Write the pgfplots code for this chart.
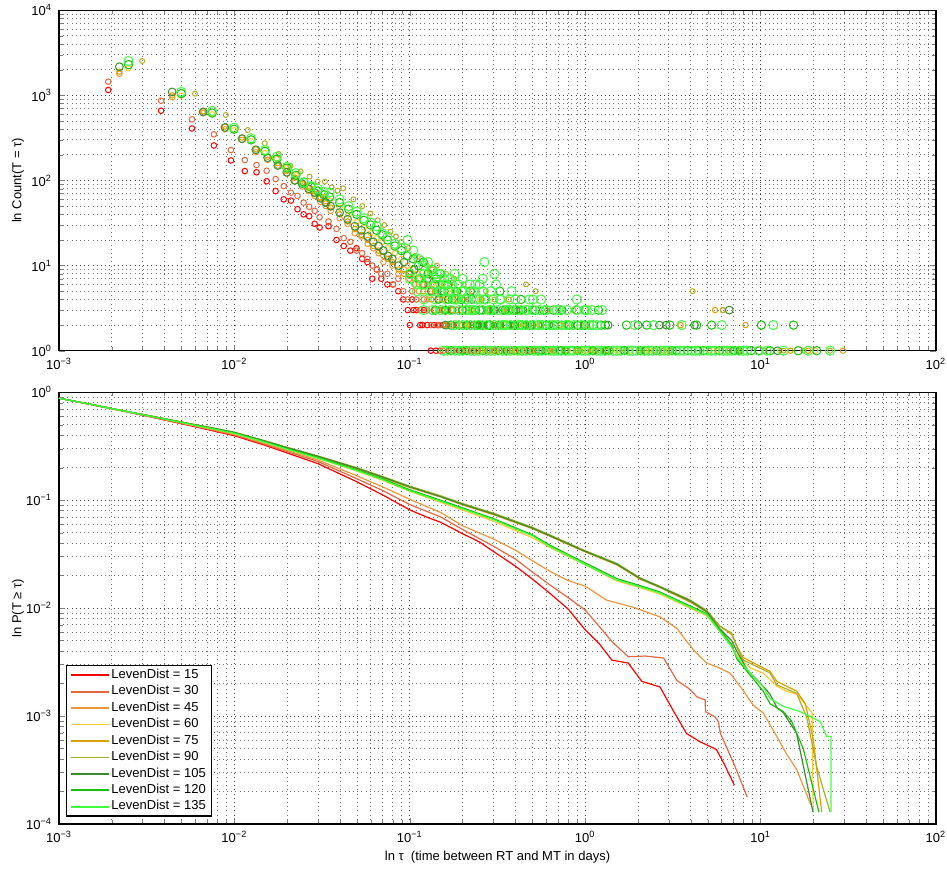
\documentclass[border=0pt]{standalone}
\usepackage{fontspec}
\setmainfont{Liberation Sans}
\usepackage{pgfplots}
\pgfplotsset{compat=1.18}

\definecolor{c15}{RGB}{255,0,0}
\definecolor{c30}{RGB}{230,102,64}
\definecolor{c45}{RGB}{236,150,60}
\definecolor{c60}{RGB}{255,199,51}
\definecolor{c75}{RGB}{217,160,0}
\definecolor{c90}{RGB}{173,173,40}
\definecolor{c105}{RGB}{60,140,50}
\definecolor{c120}{RGB}{26,191,13}
\definecolor{c135}{RGB}{64,255,64}

\newcommand{\tl}[1]{10\textsuperscript{#1}}

\pgfplotsset{
  every axis/.append style={
    scale only axis, width=438.5pt,
    xmin=1e-3, xmax=1e2,
    axis line style={line width=0.7pt},
    major tick length=3pt, minor tick length=1.8pt,
    grid=both,
    major grid style={black!75, line width=0.45pt, dash pattern=on 0.5pt off 1.6pt},
    minor grid style={black!55, line width=0.45pt, dash pattern=on 0.5pt off 1.6pt},
    tick label style={font=\fontsize{6.5}{7}\selectfont},
    label style={font=\fontsize{6.5}{7}\selectfont},
    xtick={1e-3,1e-2,1e-1,1,10,100},
    xticklabels={\tl{−3},\tl{−2},\tl{−1},\tl{0},\tl{1},\tl{2}},
    minor xtick={2e-3,3e-3,4e-3,5e-3,6e-3,7e-3,8e-3,9e-3,0.02,0.03,0.04,0.05,0.06,0.07,0.08,0.09,0.2,0.3,0.4,0.5,0.6,0.7,0.8,0.9,2,3,4,5,6,7,8,9,20,30,40,50,60,70,80,90},
    ylabel style={at={(axis description cs:-0.0467,0.5)}, anchor=center},
  },
}

\begin{document}
\begin{tikzpicture}
\path[use as bounding box] (-29.5pt,-22.5pt) rectangle (444pt,412pt);

% ---------------- top axis ----------------
\begin{loglogaxis}[at={(0pt,236.65pt)}, anchor=south west, height=170.2pt,
  ymin=1, ymax=1e4, clip=false,
  ytick={1,10,100,1000,10000},
  yticklabels={\tl{0},\tl{1},\tl{2},\tl{3},\tl{4}},
  minor ytick={2,3,4,5,6,7,8,9,20,30,40,50,60,70,80,90,200,300,400,500,600,700,800,900,2000,3000,4000,5000,6000,7000,8000,9000},
  ylabel={ln Count(T = τ)}]

\addplot[only marks, mark=o, mark size=1.4pt, mark options={line width=0.5pt}, color=c15] coordinates {
(0.00191,1157)(0.00382,661)(0.00573,408)(0.00764,258)(0.00955,172)(0.01146,129)(0.01337,125)(0.01528,98)(0.01719,75)(0.0191,60)(0.0210,58)(0.0229,46)(0.0248,40)(0.0267,38)(0.0287,31)(0.0306,28)(0.0344,29)(0.0382,20)(0.0420,17)(0.0458,15)(0.0497,16)(0.0535,12)(0.0573,11)(0.0611,7)(0.0649,9)(0.0688,7)(0.0745,6)(0.0802,6)(0.0860,5)(0.0917,4)(0.0974,3)(0.1031,4)(0.1089,3)(0.1146,2)(0.1203,3)(0.1260,2)(0.1318,1)(0.1375,2)(0.1490,1)(0.1547,2)(0.1662,1)(0.1777,2)(0.1910,1)(0.2101,1)(0.2330,1)(0.2560,2)(0.2770,1)(0.3030,1)(0.350,1)(0.420,1)(0.480,1)
(0.105,3)(0.115,3)(0.1,2)(0.118,2)(0.141,1)(0.145,2)};

\addplot[only marks, mark=o, mark size=1.4pt, mark options={line width=0.5pt}, color=c30] coordinates {
(0.00191,1449)(0.00382,866)(0.00573,523)(0.00764,349)(0.00955,228)(0.01146,174)(0.01337,152)(0.01528,130)(0.01719,104)(0.0191,86)(0.0210,72)(0.0229,66)(0.0248,55)(0.0267,49)(0.0287,44)(0.0306,37)(0.0344,33)(0.0382,27)(0.0420,21)(0.0458,19)(0.0497,15)(0.0535,14)(0.0573,12)(0.0611,10)(0.0649,9)(0.0688,8)(0.0745,8)(0.0802,6)(0.0860,7)(0.0917,5)(0.0974,4)(0.1031,5)(0.1089,4)(0.1146,3)(0.1203,4)(0.1260,3)(0.1318,2)(0.1375,3)(0.1432,2)(0.1490,2)(0.1547,1)(0.1605,2)(0.1719,1)(0.1834,2)(0.1948,1)(0.2101,2)(0.2254,1)(0.2445,1)(0.2636,2)(0.2865,1)(0.3151,1)(0.3438,1)(0.3820,1)(0.4393,1)(0.5157,1)(0.6303,1)};

\addplot[only marks, mark=o, mark size=1.4pt, mark options={line width=0.5pt}, color=c45] coordinates {
(0.00221,1799)(0.00442,949)(0.00663,620)(0.00884,400)(0.01105,300)(0.01326,215)(0.01547,175)(0.01768,150)(0.01989,120)(0.0221,98)(0.0243,85)(0.0265,75)(0.0287,66)(0.0309,56)(0.0332,50)(0.0354,44)(0.0398,36)(0.0442,31)(0.0486,24)(0.0530,22)(0.0575,18)(0.0619,16)(0.0663,14)(0.0707,11)(0.0751,12)(0.0796,10)(0.0862,8)(0.0928,9)(0.0995,7)(0.1061,6)(0.1127,5)(0.1194,6)(0.1260,4)(0.1326,5)(0.1392,3)(0.1459,4)(0.1525,3)(0.1591,2)(0.1657,3)(0.1746,2)(0.1857,3)(0.1989,2)(0.2122,1)(0.2254,2)(0.2409,1)(0.2586,2)(0.2785,1)(0.3006,2)(0.3271,1)(0.3580,1)(0.3978,1)(0.4420,2)(0.4973,1)(0.5636,1)(0.6630,1)(0.7735,1)(0.9061,1)(1.105,1)(6.1,3)};

\addplot[only marks, mark=o, mark size=1.35pt, mark options={line width=0.5pt}, color=c60] coordinates {
(0.00249,2080)(0.00498,993)(0.00747,600)(0.00996,390)(0.01245,290)(0.01494,210)(0.01743,180)(0.01992,140)(0.02241,115)(0.0249,90)(0.0274,80)(0.0299,70)(0.0324,64)(0.0349,58)(0.0398,48)(0.0448,40)(0.0498,33)(0.0548,28)(0.0598,24)(0.0647,21)(0.0697,19)(0.0747,16)(0.0822,14)(0.0896,12)(0.0971,10)(0.1046,9)(0.1121,8)(0.1195,7)(0.1270,8)(0.1345,6)(0.1419,5)(0.1494,6)(0.1569,4)(0.1643,5)(0.1743,3)(0.1843,4)(0.1967,3)(0.2092,2)(0.2216,3)(0.2366,2)(0.2515,4)(0.2665,2)(0.2839,3)(0.3038,2)(0.3262,1)(0.3486,2)(0.3735,3)(0.4009,2)(0.4308,1)(0.4656,2)(0.5030,1)(0.5453,2)(0.5976,1)(0.6574,1)(0.7221,2)(0.7968,1)(0.8964,1)(1.0,1)(1.12,1)(1.31,1)(1.52,1)(1.8,1)(2.3,1)(3.0,1)(5.6,1)(12.9,1)(20.5,1)};

\addplot[only marks, mark=o, mark size=1.35pt, mark options={line width=0.5pt}, color=c75] coordinates {
(0.00221,1900)(0.00442,1000)(0.00663,650)(0.00884,430)(0.01105,320)(0.01326,232)(0.01547,190)(0.01768,160)(0.01989,130)(0.0221,108)(0.0243,92)(0.0265,82)(0.0287,70)(0.0309,62)(0.0332,54)(0.0354,48)(0.0398,40)(0.0442,33)(0.0486,27)(0.0530,23)(0.0575,20)(0.0619,17)(0.0663,15)(0.0707,13)(0.0751,12)(0.0796,11)(0.0862,9)(0.0928,8)(0.0995,8)(0.1061,7)(0.1127,6)(0.1194,5)(0.1260,6)(0.1326,4)(0.1392,5)(0.1459,3)(0.1525,4)(0.1591,3)(0.1657,2)(0.1746,3)(0.1857,2)(0.1989,4)(0.2122,2)(0.2254,3)(0.2409,2)(0.2586,1)(0.2785,3)(0.3006,1)(0.3271,2)(0.3580,3)(0.3978,1)(0.4420,2)(0.4973,1)(0.5636,2)(0.6630,1)(0.7735,2)(0.9061,1)(1.105,1)(1.35,1)(2.8,1)(3.5,2)(5.5,3)(6.5,1)(8.2,2)(14.8,1)(18.7,1)(29.5,1)};

\addplot[only marks, mark=o, mark size=1.25pt, mark options={line width=0.5pt}, color=c90] coordinates {
(0.00298,2537)(0.00596,1047)(0.00894,589)(0.01192,392)(0.0149,274)(0.01788,205)(0.02086,148)(0.02384,128)(0.02682,111)(0.0298,97)(0.0328,97)(0.0358,83)(0.0387,76)(0.0417,81)(0.0477,60)(0.0536,50)(0.0596,41)(0.0656,34)(0.0715,30)(0.0775,25)(0.0834,22)(0.0894,19)(0.0983,16)(0.1073,13)(0.1162,12)(0.1252,10)(0.1341,9)(0.1430,10)(0.1520,7)(0.1609,8)(0.1698,6)(0.1788,7)(0.1907,5)(0.2026,6)(0.2146,4)(0.2265,5)(0.2414,3)(0.2563,4)(0.2712,5)(0.2861,3)(0.3040,4)(0.3218,2)(0.3427,3)(0.3665,4)(0.3934,2)(0.4202,3)(0.46,6)(0.4828,2)(0.5215,5)(0.5602,2)(0.6049,3)(0.6556,1)(0.7152,2)(0.7808,1)(0.8583,3)(0.9417,1)(1.0,2)(1.07,1)(1.22,1)(1.40,1)(1.69,1)(2.06,1)(2.52,1)(3.10,1)(4.10,5)(5.10,1)(6.10,3)(7.5,1)(10.5,1)(13.5,1)(17.5,1)(24.9,1)};

\addplot[only marks, mark=o, mark size=1.95pt, mark options={line width=0.5pt}, color=c105] coordinates {
(0.00221,2174)(0.00442,1097)(0.00663,640)(0.00884,420)(0.01105,310)(0.01326,230)(0.01547,185)(0.01768,150)(0.01989,125)(0.0221,100)(0.0243,92)(0.0265,80)(0.0287,72)(0.0309,62)(0.0332,55)(0.0354,50)(0.0398,42)(0.0442,35)(0.0486,29)(0.0530,26)(0.0575,22)(0.0619,19)(0.0663,17)(0.0707,15)(0.0751,13)(0.0796,12)(0.0862,10)(0.0928,11)(0.0995,8)(0.1061,9)(0.1127,7)(0.1194,6)(0.1260,7)(0.1326,5)(0.1392,6)(0.1459,4)(0.1525,5)(0.1591,3)(0.1657,4)(0.1746,3)(0.1857,5)(0.1989,3)(0.2122,2)(0.2254,4)(0.2409,2)(0.2586,3)(0.2785,2)(0.3006,3)(0.3271,2)(0.3580,1)(0.3978,2)(0.4420,3)(0.4973,2)(0.5636,1)(0.6630,2)(0.7735,1)(0.9061,2)(1.0,3)(1.105,1)(1.33,1)(1.66,1)(2.21,1)(2.65,2)(3.3,1)(4.4,1)(6.63,3)(7.5,1)(9.8,1)
(0.16,2)(0.245,2)(0.39,2)(0.62,2)(1.35,2)(2.0,2)(2.9,2)(4.2,2)(0.2,1)(0.45,1)(1.3,1)(7.0,1)(12.5,1)(0.74,3)};

\addplot[only marks, mark=o, mark size=2.1pt, mark options={line width=0.5pt}, color=c120] coordinates {
(0.00249,2300)(0.00498,1050)(0.00747,620)(0.00996,400)(0.01245,300)(0.01494,220)(0.01743,178)(0.01992,140)(0.02241,115)(0.0249,96)(0.0274,84)(0.0299,75)(0.0324,68)(0.0349,64)(0.0398,55)(0.0448,46)(0.0498,40)(0.0548,34)(0.0598,30)(0.0647,26)(0.0697,23)(0.0747,20)(0.0822,17)(0.0896,15)(0.0971,13)(0.1046,12)(0.1121,10)(0.1195,11)(0.1270,8)(0.1345,9)(0.1419,7)(0.1494,8)(0.1569,5)(0.1643,6)(0.1743,4)(0.1843,5)(0.1967,4)(0.2092,3)(0.2216,5)(0.2366,3)(0.2515,2)(0.2665,4)(0.2839,2)(0.3038,3)(0.3262,5)(0.3486,3)(0.3735,2)(0.4009,3)(0.4308,4)(0.4656,2)(0.5030,3)(0.5453,1)(0.5976,2)(0.6574,3)(0.7221,1)(0.7968,2)(0.8964,3)(0.9910,2)(1.19,3)(1.30,2)
(0.172,1)(0.211,1)(0.260,1)(0.320,1)(0.394,1)(0.484,1)(0.596,1)(0.733,1)(0.902,1)(1.109,1)(1.365,1)(1.679,1)(2.065,1)(2.541,1)(3.126,1)(3.846,1)(4.732,1)(5.821,1)(7.161,1)(8.810,1)(11.3,1)(16.4,1)(20.9,1)
(1.72,2)(2.24,2)(3.04,2)(4.32,2)(5.26,2)(10.1,2)(15.4,2)
(0.172,2)(0.191,2)(0.211,2)(0.234,2)(0.260,2)(0.288,2)(0.320,2)(0.355,2)(0.394,2)(0.437,2)(0.484,2)(0.537,2)(0.596,2)(0.661,2)(0.733,2)(0.813,2)(0.902,2)(1.0,2)(1.109,2)(1.230,2)
(0.14,3)(0.16,3)(0.2,3)(0.25,3)(0.28,3)(0.34,3)(0.39,3)(0.43,3)(0.52,3)(0.58,3)};

\addplot[only marks, mark=o, mark size=2.3pt, mark options={line width=0.5pt}, color=c135] coordinates {
(0.00249,2537)(0.00498,1097)(0.00747,656)(0.00996,417)(0.01245,313)(0.01494,228)(0.01743,190)(0.01992,145)(0.02241,122)(0.0249,94)(0.0274,86)(0.0299,80)(0.0324,74)(0.0349,72)(0.0398,60)(0.0448,50)(0.0498,43)(0.0548,36)(0.0598,32)(0.0647,29)(0.0697,24)(0.0747,22)(0.0822,18)(0.0896,16)(0.0971,20)(0.1046,15)(0.1121,12)(0.1195,10)(0.1270,11)(0.1345,9)(0.1419,8)(0.1494,6)(0.1569,7)(0.1643,5)(0.1743,6)(0.1843,4)(0.1967,5)(0.2092,4)(0.2216,3)(0.2366,6)(0.2515,4)(0.2665,11)(0.2839,3)(0.3038,8)(0.3262,4)(0.3486,2)(0.3735,3)(0.4009,4)(0.4308,2)(0.4656,3)(0.5030,4)(0.5453,2)(0.5976,3)(0.6574,2)(0.7221,3)(0.7968,2)(0.8964,4)(0.9910,3)(1.10,2)(1.25,3)
(0.155,1)(0.191,1)(0.234,1)(0.288,1)(0.355,1)(0.437,1)(0.537,1)(0.661,1)(0.813,1)(1.0,1)(1.230,1)(1.514,1)(1.862,1)(2.291,1)(2.818,1)(3.467,1)(4.266,1)(5.248,1)(6.457,1)(7.943,1)(9.772,1)(10.84,1)(13.5,1)(18.7,1)(24.9,1)
(0.1631,1)(0.1809,1)(0.2007,1)(0.2226,1)(0.2469,1)(0.2738,1)(0.3037,1)(0.3369,1)(0.3737,1)(0.4145,1)(0.4597,1)(0.5099,1)(0.5656,1)(0.6273,1)(0.6958,1)(0.7718,1)(0.8561,1)(0.9495,1)(1.053,1)(1.168,1)(1.296,1)(1.437,1)(1.594,1)(1.768,1)(1.961,1)(2.175,1)(2.413,1)(2.676,1)(2.968,1)(3.292,1)(3.652,1)(4.050,1)(4.493,1)(4.983,1)(5.527,1)(6.131,1)(6.800,1)(7.543,1)(8.366,1)
(0.181,2)(0.201,2)(0.222,2)(0.247,2)(0.274,2)(0.304,2)(0.337,2)(0.374,2)(0.415,2)(0.460,2)(0.510,2)(0.566,2)(0.628,2)(0.697,2)(0.773,2)(0.858,2)(0.951,2)(1.055,2)(1.17,2)(1.92,2)(2.45,2)(3.55,2)(6.0,2)(11.8,2)
(0.12,3)(0.135,3)(0.15,3)(0.17,3)(0.19,3)(0.21,3)(0.23,3)(0.26,3)(0.29,3)(0.32,3)(0.36,3)(0.41,3)(0.46,3)(0.5,3)(0.55,3)(0.6,3)(0.687,3)(0.784,3)(0.893,3)(1.02,3)(1.09,3)
(0.12,4)(0.14,4)(0.16,4)(0.18,4)(0.21,4)(0.24,4)(0.27,4)(0.3,4)(0.33,4)(0.37,4)(0.48,4)(0.56,4)
(0.11,5)(0.13,5)(0.15,5)(0.17,5)(0.2,5)(0.23,5)(0.26,5)(0.29,5)(0.38,5)
(0.11,6)(0.12,6)(0.14,6)(0.16,6)(0.19,6)(0.22,6)(0.25,6)(0.31,6)
(0.1,7)(0.115,7)(0.13,7)(0.17,7)(0.2,7)(0.26,7)
(0.1,8)(0.12,8)(0.15,8)(0.18,8)};
\end{loglogaxis}

% ---------------- bottom axis ----------------
\begin{loglogaxis}[at={(0pt,0pt)}, anchor=south west, height=215.85pt,
  ymin=1e-4, ymax=1,
  ytick={1e-4,1e-3,1e-2,1e-1,1},
  yticklabels={\tl{−4},\tl{−3},\tl{−2},\tl{−1},\tl{0}},
  minor ytick={2e-4,3e-4,4e-4,5e-4,6e-4,7e-4,8e-4,9e-4,0.002,0.003,0.004,0.005,0.006,0.007,0.008,0.009,0.02,0.03,0.04,0.05,0.06,0.07,0.08,0.09,0.2,0.3,0.4,0.5,0.6,0.7,0.8,0.9},
  ylabel={ln P(T ≥ τ)},
  xlabel={ln τ\ \ (time between RT and MT in days)},
  xlabel style={at={(axis description cs:0.5,-0.0764)}, anchor=center},
  legend cell align=left,
  legend image code/.code={\draw[#1, line width=0.9pt] (0pt,0pt) -- (18.7pt,0pt);},
  legend style={at={(0.0076,0.017)}, anchor=south west, draw=black, line width=0.6pt,
    fill=white, font=\fontsize{6.5}{7}\selectfont, inner xsep=2pt, inner ysep=0.6pt,
    nodes={inner sep=1.0pt, text depth=0.15em}},
  ]

\addplot[no marks, line width=0.6pt, color=c15] coordinates {
(0.001,0.881)(0.0015,0.775)(0.002,0.703)(0.003,0.613)(0.005,0.511)(0.007,0.452)(0.01,0.396)(0.015,0.322)(0.02,0.274)(0.03,0.218)(0.05,0.148)(0.07,0.112)(0.1,0.0813)(0.13,0.068)(0.15,0.0625)(0.2,0.049)(0.25,0.041)(0.3,0.0335)(0.4,0.0245)(0.5,0.0186)(0.63,0.0137)(0.8,0.0098)(1.0,0.0063)(1.2,0.0047)(1.42,0.0033)(1.76,0.0031)(2.1,0.0021)(2.67,0.00186)(3.2,0.0011)(3.78,0.00069)(4.5,0.00058)(5.6,0.00049)(6.2,0.00036)(7.08,0.00023)};
\addlegendentry{LevenDist = 15}

\addplot[no marks, line width=0.6pt, color=c30] coordinates {
(0.001,0.881)(0.0015,0.776)(0.002,0.704)(0.003,0.616)(0.005,0.515)(0.007,0.458)(0.01,0.403)(0.015,0.329)(0.02,0.283)(0.03,0.228)(0.05,0.158)(0.07,0.123)(0.1,0.0912)(0.15,0.0700)(0.2,0.0535)(0.3,0.0375)(0.4,0.0285)(0.5,0.0216)(0.63,0.0164)(0.8,0.0125)(1.0,0.0096)(1.2,0.0068)(1.42,0.0049)(1.76,0.00355)(2.2,0.0036)(2.8,0.00345)(3.33,0.00214)(3.9,0.00180)(4.33,0.00151)(4.83,0.00141)(4.85,0.00110)(5.5,0.00098)(5.74,0.00089)(5.9,0.00069)(7.0,0.00037)(8.39,0.000178)};
\addlegendentry{LevenDist = 30}

\addplot[no marks, line width=0.6pt, color=c45] coordinates {
(0.001,0.881)(0.0015,0.776)(0.002,0.705)(0.003,0.618)(0.005,0.519)(0.007,0.463)(0.01,0.408)(0.015,0.335)(0.02,0.289)(0.03,0.236)(0.05,0.168)(0.07,0.133)(0.1,0.102)(0.15,0.0770)(0.2,0.0580)(0.3,0.0437)(0.4,0.0345)(0.5,0.0275)(0.63,0.0219)(0.8,0.0180)(1.0,0.0160)(1.32,0.0119)(1.88,0.0102)(2.67,0.0083)(3.33,0.0065)(4.14,0.0041)(4.93,0.0031)(5.8,0.0028)(6.7,0.0025)(8.0,0.0017)(9.08,0.00126)(10.35,0.00107)(12.36,0.00065)(14,0.00045)(16.07,0.00032)(19.32,0.000151)};
\addlegendentry{LevenDist = 45}

\addplot[no marks, line width=0.6pt, color=c60] coordinates {
(0.001,0.881)(0.0015,0.776)(0.002,0.706)(0.003,0.620)(0.005,0.524)(0.007,0.469)(0.01,0.415)(0.015,0.343)(0.02,0.296)(0.03,0.244)(0.05,0.186)(0.07,0.153)(0.1,0.121)(0.15,0.0955)(0.2,0.0810)(0.3,0.0640)(0.5,0.0450)(0.63,0.0365)(0.8,0.0300)(1.0,0.0252)(1.5,0.0180)(2.05,0.0155)(2.67,0.0135)(3.96,0.0100)(4.93,0.0085)(5.9,0.0060)(6.8,0.0045)(7.3,0.0037)(8.71,0.0028)(10.35,0.0025)(12.36,0.0019)(14,0.0017)(16.07,0.0016)(19.7,0.00107)(19.95,0.000129)};
\addlegendentry{LevenDist = 60}

\addplot[no marks, line width=0.6pt, color=c75] coordinates {
(0.001,0.881)(0.0015,0.777)(0.002,0.707)(0.003,0.622)(0.005,0.528)(0.007,0.475)(0.01,0.423)(0.015,0.351)(0.02,0.304)(0.03,0.252)(0.05,0.196)(0.07,0.162)(0.1,0.131)(0.15,0.107)(0.2,0.0905)(0.3,0.0735)(0.5,0.0545)(0.631,0.0462)(0.975,0.0338)(1.514,0.0252)(2.051,0.0186)(2.673,0.0155)(3.963,0.0114)(4.932,0.0092)(5.875,0.0068)(6.839,0.0057)(7.311,0.0045)(7.943,0.0035)(9.506,0.0030)(11.32,0.0026)(12.36,0.0021)(16.07,0.0017)(18.0,0.0013)(20.0,0.0006)(22.3,0.000129)};
\addlegendentry{LevenDist = 75}

\addplot[no marks, line width=0.6pt, color=c90] coordinates {
(0.001,0.881)(0.0015,0.777)(0.002,0.708)(0.003,0.624)(0.005,0.531)(0.007,0.479)(0.01,0.427)(0.015,0.355)(0.02,0.309)(0.03,0.257)(0.05,0.200)(0.07,0.166)(0.1,0.135)(0.15,0.110)(0.2,0.0933)(0.3,0.0759)(0.5,0.0562)(0.631,0.0476)(0.975,0.0347)(1.514,0.0260)(2.051,0.0191)(2.673,0.0159)(3.963,0.0119)(4.932,0.00955)(5.875,0.00676)(6.839,0.00589)(7.311,0.00437)(7.943,0.00331)(9.506,0.00288)(11.32,0.00251)(12.36,0.00195)(16.07,0.00162)(18.32,0.000977)(20.89,0.000339)(24.89,0.000129)};
\addlegendentry{LevenDist = 90}

\addplot[no marks, line width=0.6pt, color=c105] coordinates {
(0.001,0.881)(0.0015,0.777)(0.002,0.708)(0.003,0.623)(0.005,0.529)(0.007,0.477)(0.01,0.425)(0.015,0.353)(0.02,0.307)(0.03,0.255)(0.05,0.198)(0.07,0.164)(0.1,0.133)(0.15,0.108)(0.2,0.0918)(0.3,0.0745)(0.5,0.0552)(0.631,0.0468)(0.975,0.0342)(1.514,0.0256)(2.051,0.0189)(2.673,0.0157)(3.963,0.0117)(4.932,0.0093)(5.875,0.0064)(6.839,0.0050)(7.311,0.0040)(8.5,0.0026)(10.0,0.0020)(11.3,0.0016)(12.4,0.0012)(13.5,0.00107)(16.0,0.0007)(19.9,0.000129)};
\addlegendentry{LevenDist = 105}

\addplot[no marks, line width=0.6pt, color=c120] coordinates {
(0.001,0.881)(0.0015,0.776)(0.002,0.707)(0.003,0.621)(0.005,0.527)(0.007,0.473)(0.01,0.420)(0.015,0.348)(0.02,0.301)(0.03,0.249)(0.05,0.191)(0.07,0.158)(0.1,0.125)(0.15,0.100)(0.2,0.0850)(0.3,0.0675)(0.5,0.0478)(0.631,0.0382)(0.975,0.0268)(1.514,0.0188)(2.051,0.0162)(2.673,0.0141)(3.963,0.0105)(4.932,0.0089)(5.875,0.0063)(6.839,0.0046)(7.311,0.0034)(8.71,0.0024)(10.35,0.0017)(11.32,0.0013)(13.49,0.00110)(15.0,0.0009)(17.5,0.0005)(21.5,0.000129)};
\addlegendentry{LevenDist = 120}

\addplot[no marks, line width=0.6pt, color=c135] coordinates {
(0.001,0.881)(0.0015,0.776)(0.002,0.706)(0.003,0.620)(0.005,0.525)(0.007,0.470)(0.01,0.417)(0.015,0.344)(0.02,0.297)(0.03,0.245)(0.05,0.188)(0.07,0.155)(0.1,0.122)(0.15,0.0977)(0.2,0.0832)(0.3,0.0661)(0.5,0.0468)(0.631,0.0372)(0.975,0.0260)(1.514,0.0182)(2.051,0.0158)(2.673,0.0138)(3.963,0.0102)(4.932,0.00871)(5.875,0.00603)(6.839,0.00437)(7.311,0.00355)(8.71,0.00251)(10.35,0.00186)(11.32,0.00145)(13.49,0.00123)(16.79,0.00110)(21.83,0.000891)(23.82,0.000646)(25.18,0.000646)(25.18,0.000129)};
\addlegendentry{LevenDist = 135}
\end{loglogaxis}
\end{tikzpicture}
\end{document}
